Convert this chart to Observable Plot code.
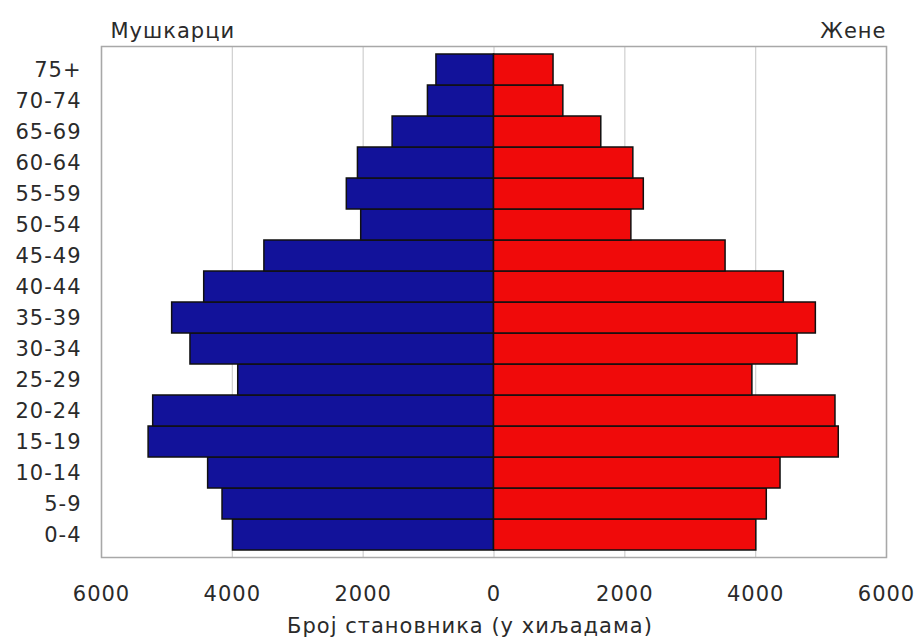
<!DOCTYPE html>
<html>
<head>
<meta charset="utf-8">
<script src="https://cdn.jsdelivr.net/npm/d3@7"></script>
<script src="https://cdn.jsdelivr.net/npm/@observablehq/plot@0.6"></script>
<style>
  html, body { margin: 0; padding: 0; background: #ffffff; }
  #chart { width: 916px; height: 640px; }
  #chart svg text { letter-spacing: 1px; }
</style>
</head>
<body>
<div id="chart"></div>
<script>
const ageGroups = ["0-4","5-9","10-14","15-19","20-24","25-29","30-34","35-39","40-44","45-49","50-54","55-59","60-64","65-69","70-74","75+"];
const male   = [3990, 4150, 4370, 5280, 5210, 3910, 4640, 4920, 4430, 3510, 2030, 2250, 2080, 1550, 1010, 880];
const female = [4010, 4170, 4380, 5270, 5220, 3950, 4640, 4920, 4430, 3540, 2100, 2290, 2130, 1640, 1060, 910];
const xTicks = [-6000, -4000, -2000, 0, 2000, 4000, 6000];
const leftTitle = "Мушкарци";
const rightTitle = "Жене";
const xTitle = "Број становника (у хиљадама)";

const maleRows = ageGroups.map((age, i) => ({age, value: male[i]}));
const femaleRows = ageGroups.map((age, i) => ({age, value: female[i]}));
const FONT = "DejaVu Sans";
const TXT = "#2a2a2a";

const chart = Plot.plot({
  width: 916,
  height: 640,
  marginLeft: 101,
  marginRight: 30,
  marginTop: 46,
  marginBottom: 83,
  style: {fontFamily: FONT, background: "#ffffff", color: TXT},
  x: {domain: [-6000, 6000]},
  y: {domain: ageGroups.slice().reverse(), padding: 0},
  marks: [
    Plot.gridX(xTicks, {stroke: "#cfcfcf", strokeOpacity: 1, strokeWidth: 1.2}),
    Plot.barX(maleRows, {x1: 0, x2: d => -d.value, y: "age", fill: "#12129a", stroke: "#101010", strokeWidth: 1.5}),
    Plot.barX(femaleRows, {x1: 0, x2: "value", y: "age", fill: "#f00a0a", stroke: "#101010", strokeWidth: 1.5}),
    Plot.frame({stroke: "#a8a8a8", strokeWidth: 1.5}),
    Plot.ruleY([0], {y: () => null, frameAnchor: "bottom", stroke: "#8a8a8a", strokeWidth: 2}),
    Plot.axisX({ticks: xTicks, tickSize: 0, tickPadding: 29, tickFormat: d => String(Math.abs(d)), label: null, fontSize: 21, fill: TXT}),
    Plot.axisY({tickSize: 0, tickPadding: 20, label: null, fontSize: 21, fill: TXT}),
    Plot.text([leftTitle], {frameAnchor: "top-left", text: d => d, textAnchor: "start", lineAnchor: "bottom", dx: 9, dy: -9, fontSize: 21, fill: TXT}),
    Plot.text([rightTitle], {frameAnchor: "top-right", text: d => d, textAnchor: "end", lineAnchor: "bottom", dx: 0, dy: -9, fontSize: 21, fill: TXT}),
    Plot.text([xTitle], {frameAnchor: "bottom", text: d => d, textAnchor: "middle", lineAnchor: "bottom", dx: -24, dy: 75, fontSize: 21, fill: TXT})
  ]
});
document.getElementById("chart").appendChild(chart);
</script>
</body>
</html>
